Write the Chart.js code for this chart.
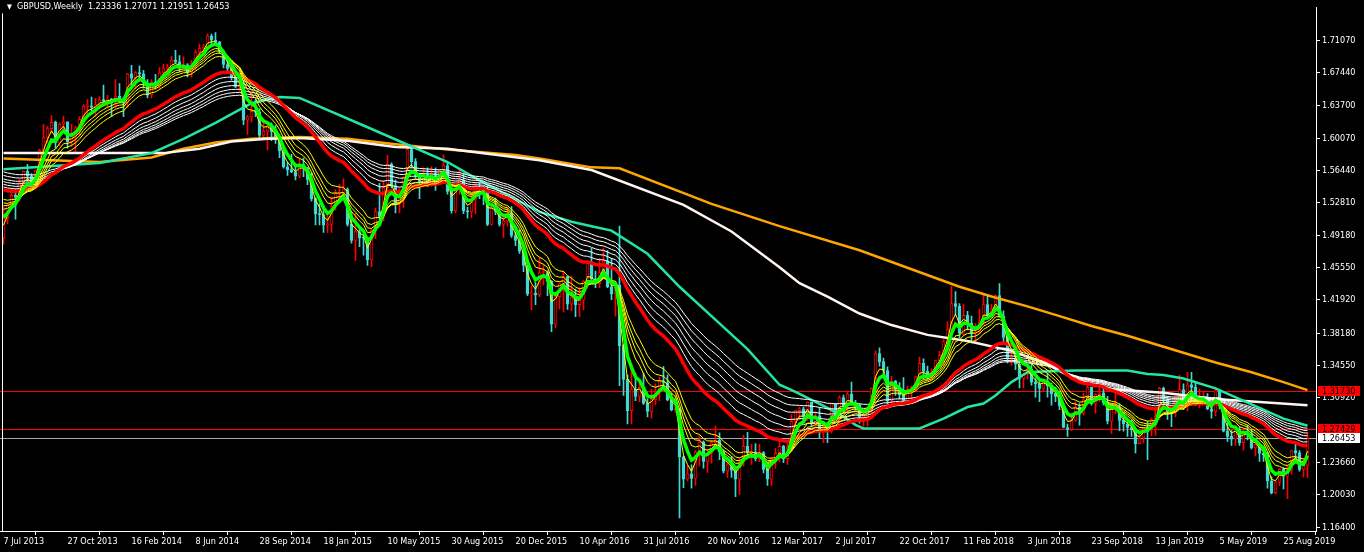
<!DOCTYPE html>
<html>
<head>
<meta charset="utf-8">
<script src="https://cdn.jsdelivr.net/npm/chart.js@4/dist/chart.umd.min.js"></script>
<style>
  body { margin: 0; background: #000; }
  #wrap { position: relative; width: 1364px; height: 552px; }
  #title { position: absolute; left: 7px; top: 1px; color: #fff; white-space: pre;
           font: 9px 'DejaVu Sans Condensed', 'Liberation Sans', sans-serif; }
  #title span { font-size: 7px; }
</style>
</head>
<body>
<div id="wrap">
  <canvas id="c" width="1364" height="552"></canvas>
  <div id="title"><span>▼</span>  GBPUSD,Weekly  1.23336 1.27071 1.21951 1.26453</div>
</div>
<script>
// weekly GBPUSD, first bar = week of 7 Jul 2013, last = week of 6 Oct 2019
const firstOpen = 1.4890;
const closes = [
  1.5110,1.5255,1.5365,1.5345,1.5505,1.5635,1.5580,1.5495,1.5645,1.5870,
  1.6015,1.6115,1.6185,1.5955,1.6165,1.6190,1.5965,1.6030,1.6125,1.6220,
  1.6365,1.6370,1.6355,1.6385,1.6440,1.6430,1.6445,1.6435,1.6480,1.6435,
  1.6410,1.6730,1.6680,1.6745,1.6730,1.6630,1.6490,1.6640,1.6600,1.6740,
  1.6790,1.6805,1.6885,1.6865,1.6800,1.6830,1.6750,1.6850,1.6975,1.7015,
  1.7025,1.7155,1.7110,1.7085,1.6985,1.6835,1.6790,1.6690,1.6590,1.6590,
  1.6210,1.6245,1.6310,1.6300,1.6040,1.6090,1.6140,1.6080,1.5995,1.5865,
  1.5685,1.5655,1.5630,1.5580,1.5710,1.5675,1.5545,1.5330,1.5160,1.5150,
  1.5030,1.5040,1.5240,1.5390,1.5390,1.5435,1.5040,1.4860,1.4960,1.4890,
  1.4885,1.4640,1.4970,1.5185,1.5130,1.5455,1.5715,1.5475,1.5285,1.5340,
  1.5570,1.5880,1.5745,1.5590,1.5510,1.5600,1.5515,1.5610,1.5490,1.5645,
  1.5700,1.5410,1.5190,1.5430,1.5535,1.5190,1.5180,1.5320,1.5450,1.5440,
  1.5425,1.5040,1.5220,1.5185,1.5040,1.5080,1.5160,1.4915,1.4860,1.4740,
  1.4580,1.4260,1.4265,1.4250,1.4500,1.4500,1.4400,1.3920,1.4230,1.4375,
  1.4455,1.4145,1.4225,1.4140,1.4190,1.4405,1.4615,1.4430,1.4375,1.4500,
  1.4630,1.4340,1.4260,1.4360,1.3680,1.3300,1.2950,1.3190,1.3110,1.3210,
  1.3030,1.2940,1.3075,1.3160,1.3280,1.3265,1.3070,1.2960,1.2965,1.2430,
  1.2180,1.2240,1.2190,1.2485,1.2600,1.2380,1.2475,1.2590,1.2615,1.2490,
  1.2270,1.2340,1.2280,1.2180,1.2370,1.2550,1.2480,1.2480,1.2410,1.2480,
  1.2290,1.2180,1.2400,1.2470,1.2550,1.2410,1.2540,1.2830,1.2950,1.2970,
  1.2885,1.3045,1.2800,1.2890,1.2740,1.2780,1.2720,1.3025,1.2880,1.3095,
  1.3000,1.3135,1.3040,1.3010,1.2875,1.2880,1.2990,1.3200,1.3590,1.3500,
  1.3400,1.3060,1.3280,1.3190,1.3130,1.3060,1.3190,1.3210,1.3330,1.3480,
  1.3390,1.3330,1.3380,1.3510,1.3570,1.3725,1.3860,1.4150,1.4120,1.3820,
  1.4020,1.3930,1.3820,1.3830,1.3950,1.4140,1.4015,1.4090,1.4240,1.4010,
  1.3770,1.3540,1.3540,1.3470,1.3310,1.3360,1.3420,1.3270,1.3250,1.3200,
  1.3270,1.3230,1.3140,1.3110,1.3000,1.2760,1.2740,1.2840,1.2990,1.2925,
  1.3070,1.3210,1.3030,1.3130,1.3150,1.3040,1.2830,1.2970,1.2980,1.2840,
  1.2800,1.2760,1.2735,1.2580,1.2640,1.2750,1.2740,1.2845,1.2885,1.3200,
  1.3080,1.2940,1.2930,1.3045,1.3185,1.3000,1.3240,1.3210,1.3030,1.3040,
  1.3070,1.2970,1.2940,1.3180,1.3000,1.2720,1.2660,1.2630,1.2740,1.2590,
  1.2700,1.2690,1.2530,1.2570,1.2470,1.2450,1.2160,1.2030,1.2150,1.2290,
  1.2215,1.2290,1.2500,1.2475,1.2290,1.2334,1.26453
];
const highs = [
  1.5240,1.5275,1.5440,1.5435,1.5545,1.5640,1.5715,1.5610,1.5650,1.5885,
  1.6160,1.6140,1.6260,1.6200,1.6180,1.6255,1.6190,1.6165,1.6140,1.6250,
  1.6385,1.6440,1.6470,1.6455,1.6475,1.6605,1.6490,1.6455,1.6665,1.6620,
  1.6470,1.6735,1.6825,1.6755,1.6820,1.6770,1.6665,1.6665,1.6725,1.6800,
  1.6840,1.6840,1.6925,1.6995,1.6935,1.6920,1.6845,1.6880,1.7000,1.7065,
  1.7060,1.7180,1.7175,1.7192,1.7095,1.7000,1.6900,1.6845,1.6720,1.6645,
  1.6645,1.6265,1.6525,1.6440,1.6340,1.6225,1.6185,1.6180,1.6150,1.6050,
  1.5900,1.5740,1.5825,1.5720,1.5785,1.5785,1.5680,1.5620,1.5340,1.5270,
  1.5250,1.5150,1.5350,1.5430,1.5490,1.5550,1.5450,1.5180,1.5165,1.4990,
  1.4930,1.4900,1.4990,1.5220,1.5500,1.5525,1.5815,1.5730,1.5540,1.5450,
  1.5575,1.5930,1.5900,1.5780,1.5615,1.5675,1.5675,1.5690,1.5675,1.5655,
  1.5820,1.5740,1.5420,1.5450,1.5660,1.5610,1.5235,1.5380,1.5510,1.5510,
  1.5470,1.5490,1.5245,1.5335,1.5215,1.5150,1.5240,1.5240,1.4950,1.4975,
  1.4750,1.4630,1.4350,1.4390,1.4670,1.4590,1.4520,1.4410,1.4245,1.4385,
  1.4515,1.4460,1.4460,1.4315,1.4330,1.4410,1.4625,1.4770,1.4515,1.4660,
  1.4770,1.4745,1.4660,1.4370,1.5020,1.3690,1.3350,1.3480,1.3370,1.3260,
  1.3370,1.3085,1.3190,1.3250,1.3325,1.3445,1.3350,1.3145,1.3120,1.2980,
  1.2440,1.2335,1.2340,1.2500,1.2675,1.2610,1.2515,1.2615,1.2775,1.2700,
  1.2510,1.2370,1.2435,1.2300,1.2415,1.2675,1.2705,1.2570,1.2580,1.2570,
  1.2490,1.2365,1.2420,1.2525,1.2615,1.2560,1.2580,1.2905,1.2955,1.2990,
  1.2990,1.3050,1.3045,1.2940,1.2980,1.2815,1.2815,1.3030,1.3030,1.3115,
  1.3125,1.3165,1.3270,1.3065,1.3030,1.2910,1.2995,1.3205,1.3620,1.3655,
  1.3540,1.3440,1.3335,1.3290,1.3265,1.3320,1.3225,1.3225,1.3335,1.3550,
  1.3530,1.3450,1.3420,1.3515,1.3615,1.3745,1.3945,1.4345,1.4285,1.4150,
  1.4145,1.4065,1.4010,1.3930,1.4090,1.4245,1.4245,1.4145,1.4250,1.4377,
  1.4070,1.3815,1.3630,1.3615,1.3510,1.3365,1.3475,1.3475,1.3310,1.3310,
  1.3290,1.3365,1.3260,1.3215,1.3170,1.3030,1.2800,1.2925,1.3045,1.3030,
  1.3140,1.3300,1.3215,1.3140,1.3260,1.3260,1.3110,1.3030,1.3175,1.3025,
  1.2930,1.2840,1.2840,1.2750,1.2690,1.2760,1.2830,1.2865,1.2950,1.3215,
  1.3215,1.3110,1.2960,1.3110,1.3350,1.3250,1.3380,1.3380,1.3270,1.3195,
  1.3165,1.3140,1.3040,1.3190,1.3180,1.3045,1.2810,1.2725,1.2765,1.2765,
  1.2750,1.2785,1.2740,1.2575,1.2585,1.2520,1.2480,1.2210,1.2165,1.2300,
  1.2310,1.2340,1.2505,1.2585,1.2500,1.2410,1.27071
];
const lows = [
  1.4814,1.5045,1.5250,1.5100,1.5300,1.5425,1.5520,1.5425,1.5480,1.5595,
  1.5855,1.5955,1.6070,1.5895,1.5920,1.6100,1.5895,1.5915,1.5855,1.6030,
  1.6150,1.6260,1.6315,1.6250,1.6340,1.6400,1.6345,1.6250,1.6345,1.6405,
  1.6250,1.6350,1.6580,1.6565,1.6650,1.6570,1.6460,1.6460,1.6560,1.6565,
  1.6690,1.6750,1.6800,1.6850,1.6755,1.6780,1.6695,1.6690,1.6770,1.6925,
  1.6960,1.7000,1.7060,1.7055,1.6960,1.6795,1.6760,1.6660,1.6575,1.6535,
  1.6160,1.6050,1.6190,1.6250,1.6010,1.5990,1.5875,1.5980,1.5950,1.5790,
  1.5670,1.5590,1.5620,1.5540,1.5565,1.5575,1.5485,1.5300,1.5035,1.5035,
  1.4950,1.4950,1.4950,1.5200,1.5330,1.5335,1.5020,1.4830,1.4635,1.4790,
  1.4695,1.4580,1.4565,1.4880,1.5090,1.5080,1.5440,1.5450,1.5170,1.5170,
  1.5230,1.5460,1.5675,1.5560,1.5330,1.5465,1.5460,1.5465,1.5420,1.5485,
  1.5610,1.5380,1.5165,1.5170,1.5380,1.5160,1.5110,1.5115,1.5160,1.5330,
  1.5260,1.5025,1.5030,1.5150,1.5020,1.4895,1.5020,1.4895,1.4800,1.4715,
  1.4510,1.4240,1.4080,1.4140,1.4230,1.4360,1.4240,1.3835,1.3880,1.4090,
  1.4055,1.4085,1.4070,1.4005,1.4005,1.4080,1.4320,1.4400,1.4330,1.4330,
  1.4470,1.4330,1.4195,1.4010,1.3230,1.3120,1.2800,1.2800,1.3060,1.3050,
  1.3020,1.2880,1.2865,1.3015,1.3060,1.3185,1.3060,1.2945,1.2930,1.1745,
  1.2085,1.2160,1.2080,1.2110,1.2330,1.2305,1.2255,1.2360,1.2525,1.2400,
  1.2250,1.2200,1.2200,1.1985,1.2010,1.2325,1.2430,1.2345,1.2385,1.2375,
  1.2250,1.2110,1.2110,1.2300,1.2375,1.2365,1.2345,1.2515,1.2770,1.2845,
  1.2840,1.2840,1.2775,1.2775,1.2635,1.2590,1.2590,1.2700,1.2870,1.2810,
  1.2930,1.2930,1.3030,1.2955,1.2810,1.2775,1.2775,1.2925,1.3150,1.3450,
  1.3345,1.3025,1.3030,1.3120,1.3080,1.3035,1.3040,1.3060,1.3160,1.3300,
  1.3300,1.3300,1.3300,1.3350,1.3480,1.3460,1.3690,1.3840,1.4020,1.3765,
  1.3800,1.3855,1.3710,1.3710,1.3810,1.3915,1.4000,1.3990,1.4050,1.4000,
  1.3710,1.3485,1.3460,1.3410,1.3205,1.3205,1.3305,1.3235,1.3100,1.3050,
  1.3165,1.3100,1.3010,1.3050,1.2960,1.2755,1.2660,1.2725,1.2830,1.2785,
  1.2900,1.3070,1.3010,1.2920,1.3050,1.3015,1.2800,1.2695,1.2915,1.2725,
  1.2720,1.2660,1.2660,1.2475,1.2575,1.2590,1.2400,1.2665,1.2670,1.2855,
  1.3005,1.2850,1.2770,1.2880,1.3005,1.2960,1.2945,1.3005,1.3005,1.2980,
  1.3010,1.2960,1.2865,1.2890,1.2970,1.2710,1.2605,1.2560,1.2560,1.2560,
  1.2505,1.2620,1.2520,1.2440,1.2380,1.2380,1.2080,1.2015,1.2015,1.2110,
  1.2070,1.1960,1.2235,1.2385,1.2270,1.2205,1.21951
];

// guppy ema groups, seeds read at the first bar
const shortPeriods = [3, 5, 8, 10, 12, 15];
const shortSeeds = [1.503, 1.512, 1.521, 1.525, 1.528, 1.532];
const longPeriods = [30, 35, 40, 45, 50, 55, 60];
const longSeeds = [1.543, 1.546, 1.549, 1.552, 1.555, 1.559, 1.563];

// slow averages (week index, price)
const tealWeeks = [0,24,37,45,53,62,69,74,90,111,118,126,134,142,147,152,161,169,177,186,194,198,202,206,210,213,215,229,235,241,245,248,252,256,260,268,281,286,290,295,303,312,320,326];
const tealValues = [1.566,1.573,1.584,1.600,1.618,1.640,1.647,1.646,1.615,1.574,1.556,1.537,1.518,1.507,1.502,1.497,1.471,1.434,1.401,1.364,1.324,1.316,1.307,1.298,1.288,1.279,1.275,1.275,1.286,1.299,1.303,1.312,1.327,1.338,1.339,1.340,1.340,1.336,1.335,1.331,1.320,1.302,1.286,1.278];
const whiteWeeks = [0,40,49,57,66,74,86,98,111,134,147,170,182,194,199,206,214,222,231,241,252,260,268,277,290,303,326];
const whiteValues = [1.584,1.584,1.589,1.597,1.600,1.601,1.598,1.591,1.589,1.576,1.565,1.526,1.496,1.456,1.438,1.423,1.404,1.391,1.380,1.373,1.362,1.349,1.330,1.319,1.315,1.308,1.301];
const orangeWeeks = [0,12,24,37,45,53,62,74,86,98,111,128,134,147,154,177,194,214,239,247,256,264,272,281,289,303,312,320,326];
const orangeValues = [1.578,1.576,1.574,1.579,1.589,1.596,1.600,1.602,1.600,1.594,1.588,1.582,1.578,1.568,1.567,1.527,1.502,1.475,1.434,1.423,1.412,1.401,1.390,1.379,1.368,1.349,1.338,1.327,1.318];

// horizontal levels on the right
const levelValues = [1.31730, 1.27429, 1.26453];
const levelColors = ['#ff0000', '#ff0000', '#a8a8a8'];
const levelBoxes = ['#ff0000', '#ff0000', '#ffffff'];

const dateWeeks = [0,16,32,48,64,80,96,112,128,144,160,176,192,208,224,240,256,272,288,304,320];
const dateLabels = ['7 Jul 2013','27 Oct 2013','16 Feb 2014','8 Jun 2014','28 Sep 2014','18 Jan 2015','10 May 2015','30 Aug 2015','20 Dec 2015','10 Apr 2016','31 Jul 2016','20 Nov 2016','12 Mar 2017','2 Jul 2017','22 Oct 2017','11 Feb 2018','3 Jun 2018','23 Sep 2018','13 Jan 2019','5 May 2019','25 Aug 2019'];
const priceTicks = [1.71070,1.67440,1.63700,1.60070,1.56440,1.52810,1.49180,1.45550,1.41920,1.38180,1.34550,1.30920,1.23660,1.20030,1.16400];

const FONT = "'DejaVu Sans Condensed', 'Liberation Sans', sans-serif";
const BULL = '#ff0000';
const BEAR = '#40d8d0';

const opens = closes.map((c, i) => i === 0 ? firstOpen : closes[i - 1]);
opens[opens.length - 1] = 1.23336;

function ema(period, seed) {
  const k = 2 / (period + 1);
  let e = seed;
  return closes.map((c, i) => {
    if (i > 0) e += k * (c - e);
    return { x: i, y: e };
  });
}
const pairs = (w, v) => w.map((x, i) => ({ x: x, y: v[i] }));

function line(data, color, width, order) {
  return { type: 'line', data: data, borderColor: color, borderWidth: width,
           pointRadius: 0, tension: 0, fill: false, order: order };
}

const datasets = [];
shortPeriods.forEach((p, i) => {
  if (p === 5) datasets.push(line(ema(p, shortSeeds[i]), '#00ff00', 3.5, 0));
  else datasets.push(line(ema(p, shortSeeds[i]), '#ffff00', 1, 1));
});
longPeriods.forEach((p, i) => {
  if (p === 30) datasets.push(line(ema(p, longSeeds[i]), '#ff0000', 3.5, 2));
  else datasets.push(line(ema(p, longSeeds[i]), '#ffffff', 1, 3));
});
datasets.push(line(pairs(tealWeeks, tealValues), '#22e6a0', 2.5, 4));
datasets.push(line(pairs(whiteWeeks, whiteValues), '#fff4ee', 2.5, 5));
datasets.push(line(pairs(orangeWeeks, orangeValues), '#ffa500', 2.5, 6));

const up = closes.map((c, i) => c >= opens[i]);
datasets.push({
  type: 'bar', order: 7, grouped: false, barThickness: 3, minBarLength: 1,
  borderSkipped: false, borderWidth: 1,
  data: closes.map((c, i) => ({ x: i, y: [opens[i], c] })),
  backgroundColor: up.map(u => u ? '#000000' : BEAR),
  borderColor: up.map(u => u ? BULL : BEAR)
});
datasets.push({
  type: 'bar', order: 8, grouped: false, barThickness: 1, borderWidth: 0,
  data: highs.map((h, i) => ({ x: i, y: [lows[i], h] })),
  backgroundColor: up.map(u => u ? BULL : BEAR)
});

const levelPlugin = {
  id: 'levels',
  beforeDatasetsDraw(chart) {
    const { ctx, chartArea: a, scales: { y } } = chart;
    ctx.save();
    ctx.lineWidth = 1;
    levelValues.forEach((v, i) => {
      const py = Math.round(y.getPixelForValue(v)) + 0.5;
      ctx.strokeStyle = levelColors[i];
      ctx.beginPath(); ctx.moveTo(a.left, py); ctx.lineTo(a.right, py); ctx.stroke();
    });
    ctx.restore();
  },
  afterDraw(chart) {
    const { ctx, chartArea: a, scales: { y } } = chart;
    ctx.save();
    ctx.strokeStyle = '#ffffff';
    ctx.lineWidth = 1;
    ctx.beginPath(); ctx.moveTo(a.left + 2.5, a.top + 6); ctx.lineTo(a.left + 2.5, a.bottom); ctx.stroke();
    ctx.font = '9px ' + FONT;
    ctx.textBaseline = 'middle';
    levelValues.forEach((v, i) => {
      const py = Math.round(y.getPixelForValue(v));
      ctx.fillStyle = levelBoxes[i];
      ctx.fillRect(a.right + 2, py - 5, 42, 10);
      ctx.fillStyle = '#000000';
      ctx.fillText(v.toFixed(5), a.right + 6, py + 0.5);
    });
    ctx.restore();
  }
};

Chart.defaults.font.family = FONT;
Chart.defaults.font.size = 9;
Chart.defaults.color = '#ffffff';

new Chart(document.getElementById('c'), {
  type: 'bar',
  data: { datasets: datasets },
  options: {
    responsive: false,
    animation: false,
    devicePixelRatio: 1,
    layout: { padding: 0 },
    plugins: { legend: { display: false }, tooltip: { enabled: false } },
    scales: {
      x: {
        type: 'linear', min: -0.875, max: 328.125, offset: false,
        grid: { drawOnChartArea: false, color: '#ffffff', tickLength: 4 },
        border: { color: '#ffffff' },
        ticks: { color: '#ffffff', align: 'start', padding: 1, maxRotation: 0, autoSkip: false,
                 callback: (v, i) => dateLabels[i] },
        afterBuildTicks: s => { s.ticks = dateWeeks.map(w => ({ value: w })); },
        afterFit: s => { s.height = 21; }
      },
      y: {
        position: 'right', min: 1.15985, max: 1.74756,
        grid: { drawOnChartArea: false, color: '#ffffff', tickLength: 4 },
        border: { color: '#ffffff' },
        ticks: { color: '#ffffff', padding: 2, autoSkip: false, callback: v => v.toFixed(5) },
        afterBuildTicks: s => { s.ticks = priceTicks.map(v => ({ value: v })); },
        afterFit: s => { s.width = 48; }
      }
    }
  },
  plugins: [levelPlugin]
});
</script>
</body>
</html>
